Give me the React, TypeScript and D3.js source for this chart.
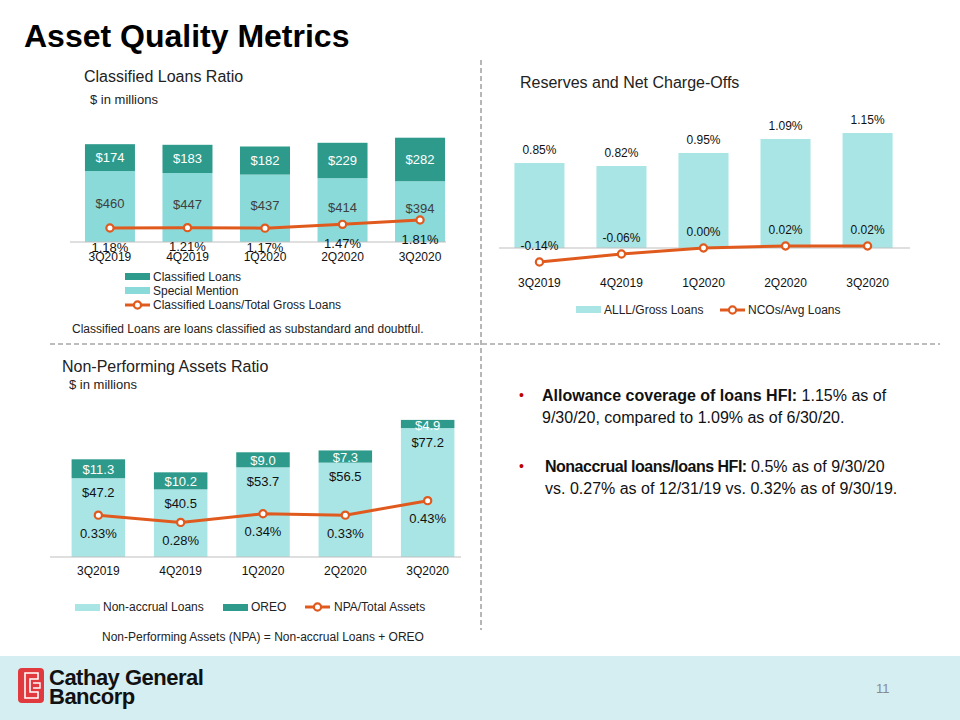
import React from "react";
import * as d3 from "d3";

const quarters = ["3Q2019", "4Q2019", "1Q2020", "2Q2020", "3Q2020"];

// Classified Loans Ratio ($ in millions)
const specialMention = [460, 447, 437, 414, 394];
const classifiedLoans = [174, 183, 182, 229, 282];
const classifiedRatio = [1.18, 1.21, 1.17, 1.47, 1.81];

// Reserves and Net Charge-Offs (%)
const alllGross = [0.85, 0.82, 0.95, 1.09, 1.15];
const ncoAvg = [-0.14, -0.06, 0.0, 0.02, 0.02];

// Non-Performing Assets ($ in millions)
const nonAccrual = [47.2, 40.5, 53.7, 56.5, 77.2];
const oreo = [11.3, 10.2, 9.0, 7.3, 4.9];
const npaRatio = [0.33, 0.28, 0.34, 0.33, 0.43];

const DARK = "#2E9A8B";
const LIGHT1 = "#8ADADA";
const LIGHT2 = "#A9E5E5";
const ORANGE = "#E05A1E";
const FONT = "'Liberation Sans', Arial, sans-serif";
const TXT = "#222";

const pct = (v: number) => `${v.toFixed(2)}%`;

function Marker({ x, y }: { x: number; y: number }) {
  return <circle cx={x} cy={y} r={3.6} fill="#fff" stroke={ORANGE} strokeWidth={2.2} />;
}

function LegendLine({ x, y }: { x: number; y: number }) {
  return (
    <g>
      <line x1={x} x2={x + 25} y1={y} y2={y} stroke={ORANGE} strokeWidth={3} />
      <Marker x={x + 12.5} y={y} />
    </g>
  );
}

function ClassifiedChart() {
  const axisY = 242;
  const x = d3.scaleBand().domain(quarters).range([71, 459]).paddingInner(0.355).paddingOuter(0.18);
  const y = d3.scaleLinear().domain([0, 700]).range([axisY, axisY - 108]);
  const y2 = d3.scaleLinear().domain([0, 8]).range([axisY + 1, axisY + 1 - 101.6]);
  const bw = x.bandwidth();
  const line = d3
    .line<number>()
    .x((_, i) => (x(quarters[i]) as number) + bw / 2)
    .y((d) => y2(d));
  return (
    <g fontFamily={FONT}>
      <text x={84} y={82} fontSize={16} fill={TXT}>Classified Loans Ratio</text>
      <text x={90} y={104} fontSize={13} fill={TXT}>$ in millions</text>
      {quarters.map((q, i) => {
        const x0 = x(q) as number;
        const sTop = y(specialMention[i]);
        const cTop = y(specialMention[i] + classifiedLoans[i]);
        return (
          <g key={q}>
            <rect x={x0} y={sTop} width={bw} height={axisY - sTop} fill={LIGHT1} />
            <rect x={x0} y={cTop} width={bw} height={sTop - cTop} fill={DARK} />
            <text x={x0 + bw / 2} y={(cTop + sTop) / 2} dy="0.35em" textAnchor="middle" fontSize={13} fill="#fff">
              ${classifiedLoans[i]}
            </text>
            <text x={x0 + bw / 2} y={(sTop + axisY) / 2 - 3} dy="0.35em" textAnchor="middle" fontSize={13} fill="#404040">
              ${specialMention[i]}
            </text>
          </g>
        );
      })}
      <line x1={70} x2={446} y1={axisY} y2={axisY} stroke="#BFBFBF" strokeWidth={1} />
      <path d={line(classifiedRatio) || ""} fill="none" stroke={ORANGE} strokeWidth={3} />
      {classifiedRatio.map((v, i) => (
        <g key={i}>
          <Marker x={(x(quarters[i]) as number) + bw / 2} y={y2(v)} />
          <text x={(x(quarters[i]) as number) + bw / 2} y={y2(v) + 19} dy="0.35em" textAnchor="middle" fontSize={13} fill="#111">
            {pct(v)}
          </text>
        </g>
      ))}
      {quarters.map((q) => (
        <text key={q} x={(x(q) as number) + bw / 2} y={257} dy="0.35em" textAnchor="middle" fontSize={12} fill="#111">
          {q}
        </text>
      ))}
      <rect x={125} y={273} width={25} height={7} fill={DARK} />
      <text x={153} y={277} dy="0.35em" fontSize={12} fill={TXT}>Classified Loans</text>
      <rect x={125} y={287} width={25} height={7} fill={LIGHT1} />
      <text x={153} y={291} dy="0.35em" fontSize={12} fill={TXT}>Special Mention</text>
      <LegendLine x={125} y={305} />
      <text x={153} y={305} dy="0.35em" fontSize={12} fill={TXT}>Classified Loans/Total Gross Loans</text>
      <text x={72} y={329} dy="0.35em" fontSize={12} fill={TXT}>
        Classified Loans are loans classified as substandard and doubtful.
      </text>
    </g>
  );
}

function ReservesChart() {
  const axisY = 248;
  const x = d3.scaleBand().domain(quarters).range([498, 909]).paddingInner(0.39).paddingOuter(0.2);
  const y = d3.scaleLinear().domain([0, 1]).range([axisY, axisY - 100]);
  const bw = x.bandwidth();
  const line = d3
    .line<number>()
    .x((_, i) => (x(quarters[i]) as number) + bw / 2)
    .y((d) => y(d));
  return (
    <g fontFamily={FONT}>
      <text x={520} y={88} fontSize={16} fill={TXT}>Reserves and Net Charge-Offs</text>
      {quarters.map((q, i) => {
        const x0 = x(q) as number;
        const top = y(alllGross[i]);
        return (
          <g key={q}>
            <rect x={x0} y={top} width={bw} height={axisY - top} fill={LIGHT2} />
            <text x={x0 + bw / 2} y={top - 13} dy="0.35em" textAnchor="middle" fontSize={12} fill="#111">
              {pct(alllGross[i])}
            </text>
          </g>
        );
      })}
      <line x1={499} x2={910} y1={axisY} y2={axisY} stroke="#BFBFBF" strokeWidth={1} />
      <path d={line(ncoAvg) || ""} fill="none" stroke={ORANGE} strokeWidth={3} />
      {ncoAvg.map((v, i) => (
        <g key={i}>
          <Marker x={(x(quarters[i]) as number) + bw / 2} y={y(v)} />
          <text x={(x(quarters[i]) as number) + bw / 2} y={y(v) - 16} dy="0.35em" textAnchor="middle" fontSize={12} fill="#111">
            {pct(v)}
          </text>
        </g>
      ))}
      {quarters.map((q) => (
        <text key={q} x={(x(q) as number) + bw / 2} y={283} dy="0.35em" textAnchor="middle" fontSize={12} fill="#111">
          {q}
        </text>
      ))}
      <rect x={576} y={306} width={25} height={7} fill={LIGHT2} />
      <text x={604} y={310} dy="0.35em" fontSize={12} fill={TXT}>ALLL/Gross Loans</text>
      <LegendLine x={720} y={310} />
      <text x={748} y={310} dy="0.35em" fontSize={12} fill={TXT}>NCOs/Avg Loans</text>
    </g>
  );
}

function NpaChart() {
  const axisY = 557;
  const x = d3.scaleBand().domain(quarters).range([51, 475]).paddingInner(0.35).paddingOuter(0.25);
  const y = d3.scaleLinear().domain([0, 100]).range([axisY, axisY - 167]);
  const y2 = d3.scaleLinear().domain([0, 1]).range([563, 418]);
  const bw = x.bandwidth();
  const line = d3
    .line<number>()
    .x((_, i) => (x(quarters[i]) as number) + bw / 2)
    .y((d) => y2(d));
  return (
    <g fontFamily={FONT}>
      <text x={62} y={372} fontSize={16} fill={TXT}>Non-Performing Assets Ratio</text>
      <text x={69} y={389} fontSize={13} fill={TXT}>$ in millions</text>
      {quarters.map((q, i) => {
        const x0 = x(q) as number;
        const nTop = y(nonAccrual[i]);
        const oTop = y(nonAccrual[i] + oreo[i]);
        return (
          <g key={q}>
            <rect x={x0} y={nTop} width={bw} height={axisY - nTop} fill={LIGHT2} />
            <rect x={x0} y={oTop} width={bw} height={nTop - oTop} fill={DARK} />
            <text x={x0 + bw / 2} y={(oTop + nTop) / 2 + 1} dy="0.35em" textAnchor="middle" fontSize={13} fill="#fff">
              ${oreo[i].toFixed(1)}
            </text>
            <text x={x0 + bw / 2} y={nTop + 14} dy="0.35em" textAnchor="middle" fontSize={13} fill="#111">
              ${nonAccrual[i].toFixed(1)}
            </text>
          </g>
        );
      })}
      <line x1={50} x2={461} y1={axisY} y2={axisY} stroke="#BFBFBF" strokeWidth={1} />
      <path d={line(npaRatio) || ""} fill="none" stroke={ORANGE} strokeWidth={3} />
      {npaRatio.map((v, i) => (
        <g key={i}>
          <Marker x={(x(quarters[i]) as number) + bw / 2} y={y2(v)} />
          <text x={(x(quarters[i]) as number) + bw / 2} y={y2(v) + 18} dy="0.35em" textAnchor="middle" fontSize={13} fill="#111">
            {pct(v)}
          </text>
        </g>
      ))}
      {quarters.map((q) => (
        <text key={q} x={(x(q) as number) + bw / 2} y={571} dy="0.35em" textAnchor="middle" fontSize={12} fill="#111">
          {q}
        </text>
      ))}
      <rect x={75} y={604} width={25} height={7} fill={LIGHT2} />
      <text x={103} y={607} dy="0.35em" fontSize={12} fill={TXT}>Non-accrual Loans</text>
      <rect x={223} y={604} width={25} height={7} fill={DARK} />
      <text x={251} y={607} dy="0.35em" fontSize={12} fill={TXT}>OREO</text>
      <LegendLine x={305} y={607} />
      <text x={334} y={607} dy="0.35em" fontSize={12} fill={TXT}>NPA/Total Assets</text>
      <text x={102} y={637} dy="0.35em" fontSize={12} fill={TXT}>
        Non-Performing Assets (NPA) = Non-accrual Loans + OREO
      </text>
    </g>
  );
}

function Bullets() {
  return (
    <g fontFamily={FONT} fontSize={16} fill="#111">
      <text x={519} y={400} fontSize={14} fill="#C00000">•</text>
      <text x={542} y={401}>
        <tspan fontWeight="bold">Allowance coverage of loans HFI:</tspan> 1.15% as of
      </text>
      <text x={542} y={423}>9/30/20, compared to 1.09% as of 6/30/20.</text>
      <text x={519} y={471} fontSize={14} fill="#C00000">•</text>
      <text x={545} y={472}>
        <tspan fontWeight="bold" letterSpacing={-0.5}>Nonaccrual loans/loans HFI:</tspan> 0.5% as of 9/30/20
      </text>
      <text x={545} y={494}>vs. 0.27% as of 12/31/19 vs. 0.32% as of 9/30/19.</text>
    </g>
  );
}

function Footer() {
  return (
    <g fontFamily={FONT}>
      <rect x={0} y={656} width={960} height={64} fill="#D5EEF2" />
      <rect x={18} y={668} width={26} height={35} rx={4} fill="#E0393E" />
      <path d="M38 673 H25 V698 H38 V692 H30 V679 H38 Z" fill="none" stroke="#fff" strokeWidth={1.6} />
      <path d="M33 683 H40 V688 H33" fill="none" stroke="#fff" strokeWidth={1.4} />
      <text x={49} y={685} fontSize={22} fontWeight="bold" fill="#111" letterSpacing={-0.5}>Cathay General</text>
      <text x={49} y={704} fontSize={22} fontWeight="bold" fill="#111" letterSpacing={-0.5}>Bancorp</text>
      <text x={876} y={693} fontSize={13} fill="#8A8A8A">11</text>
    </g>
  );
}

export default function App() {
  return (
    <svg width={960} height={720} style={{ position: "absolute", left: 0, top: 0, background: "#fff" }}>
      <rect width={960} height={720} fill="#fff" />
      <text x={24} y={47} fontFamily={FONT} fontSize={32} fontWeight="bold" fill="#000">
        Asset Quality Metrics
      </text>
      <line x1={481} x2={481} y1={60} y2={630} stroke="#A6A6A6" strokeWidth={1.6} strokeDasharray="5 3" />
      <line x1={50} x2={940} y1={344} y2={344} stroke="#A6A6A6" strokeWidth={1.6} strokeDasharray="5 3" />
      <ClassifiedChart />
      <ReservesChart />
      <NpaChart />
      <Bullets />
      <Footer />
    </svg>
  );
}
